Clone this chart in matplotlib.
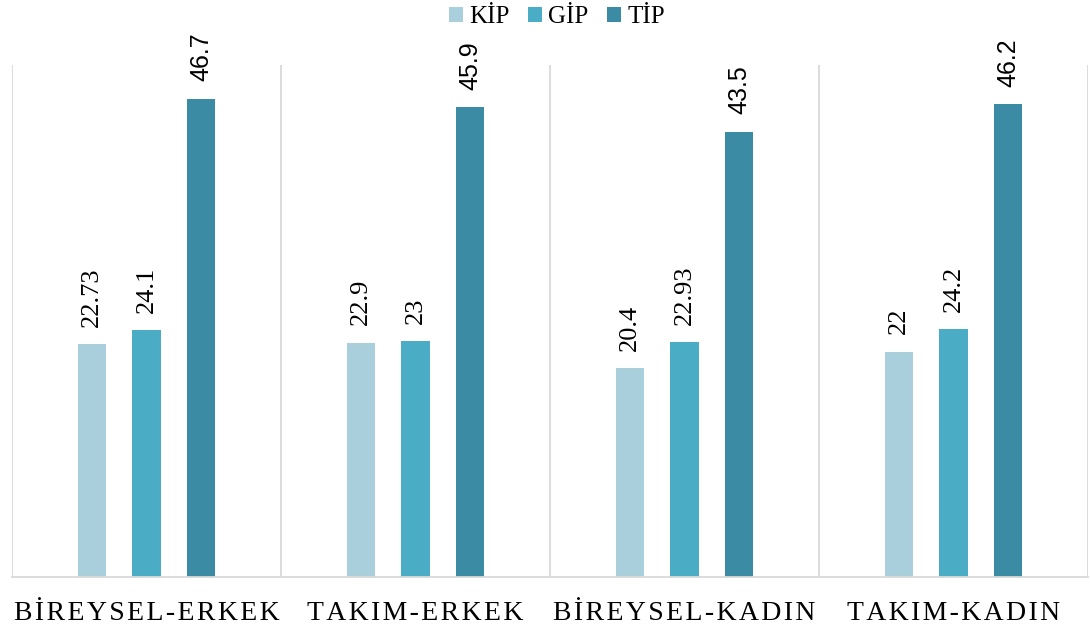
import numpy as np
import matplotlib.pyplot as plt
from matplotlib.font_manager import FontProperties

# data
groups = ['BİREYSEL-ERKEK', 'TAKIM-ERKEK', 'BİREYSEL-KADIN', 'TAKIM-KADIN']
series = ['KİP', 'GİP', 'TİP']
kip = [22.73, 22.9, 20.4, 22.0]
gip = [24.1, 23.0, 22.93, 24.2]
tip = [46.7, 45.9, 43.5, 46.2]
kip_lbl = ['22.73', '22.9', '20.4', '22']
gip_lbl = ['24.1', '23', '22.93', '24.2']
tip_lbl = ['46.7', '45.9', '43.5', '46.2']

colors = ['#A9CFDC', '#4BACC6', '#3B8BA4']

plt.rcParams['font.family'] = ['Liberation Serif', 'DejaVu Serif']

fig = plt.figure(figsize=(10.9, 6.27), dpi=100)
ax = fig.add_axes([12 / 1090, 1 - 577 / 627, 1076 / 1090, 512 / 627])

serif = FontProperties(family='Liberation Serif', size=19)
sans = FontProperties(family='Liberation Sans', size=18)

x = np.arange(len(groups))
step = 0.204
width = 0.105
vals = [kip, gip, tip]
lbls = [kip_lbl, gip_lbl, tip_lbl]
for i, (v, lb, c) in enumerate(zip(vals, lbls, colors)):
    xs = x + (i - 1) * step
    ax.bar(xs, v, width=width, color=c, label=series[i], zorder=2)
    fp = sans if i == 2 else serif
    for xx, yy, t in zip(xs, v, lb):
        ax.text(xx, yy + 1.7, t, rotation=90, ha='center', va='bottom',
                fontproperties=fp, color='#000000')

ax.set_xlim(-0.5, len(groups) - 0.5)
ax.set_ylim(0, 50)

# group separators
for b in np.arange(-0.5, len(groups) + 0.5, 1.0):
    ax.axvline(b, color='#D9D9D9', lw=1.3, zorder=1)

for s in ['top', 'right', 'left']:
    ax.spines[s].set_visible(False)
ax.spines['bottom'].set_color('#D9D9D9')
ax.spines['bottom'].set_linewidth(1.3)
ax.set_yticks([])
ax.set_xticks(x)
ax.set_xticklabels(['\u200a'.join(g) for g in groups], fontsize=20)
ax.tick_params(axis='x', length=0, pad=17)

leg = fig.legend(loc='upper center', bbox_to_anchor=(557 / 1090, 1.026), ncol=3,
                 frameon=False, fontsize=18, handlelength=0.56, handleheight=0.56,
                 handletextpad=0.24, columnspacing=0.75)

fig.savefig('out.png', dpi=100)
